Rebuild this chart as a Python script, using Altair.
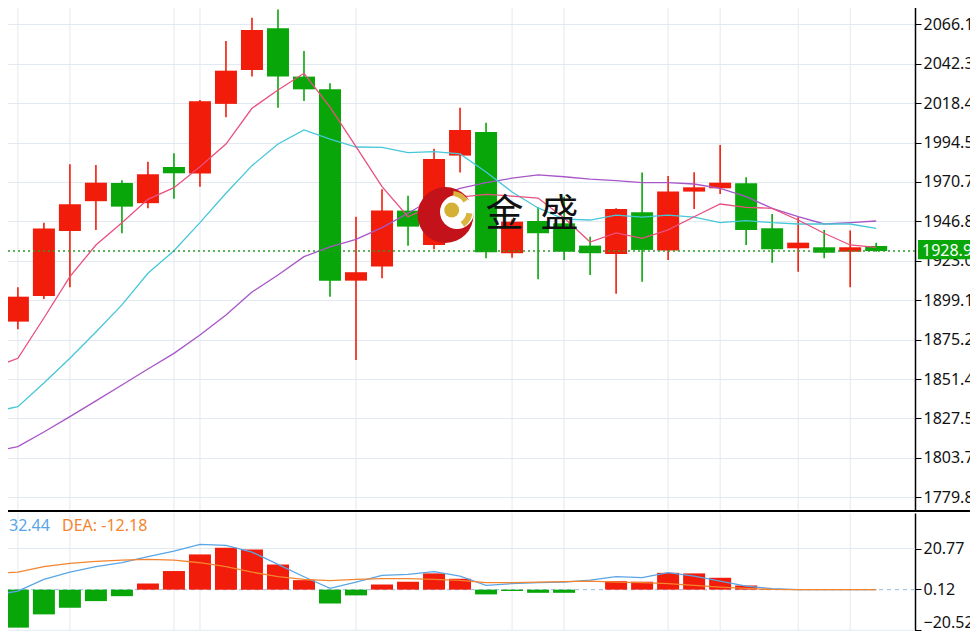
import altair as alt
import pandas as pd

# ---------------- data ----------------
candle_idx = list(range(34))
opens = [1886.2, 1901.7, 1941.1, 1959.1, 1970.1, 1957.9, 1979.8, 1975.8, 2018.0, 2038.5,
         2063.8, 2034.5, 2026.8, 1911.0, 1919.5, 1953.4, 1932.6, 1986.7, 2001.0, 1927.6,
         1947.1, 1945.7, 1932.2, 1927.2, 1952.4, 1929.2, 1964.9, 1966.9, 1969.9, 1942.7,
         1930.6, 1931.2, 1928.5, 1932.0]
highs = [1907.0, 1946.1, 1981.4, 1981.0, 1971.8, 1983.0, 1988.1, 2020.4, 2056.1, 2070.2,
         2075.2, 2050.0, 2030.5, 1949.7, 1966.3, 1962.4, 1990.9, 2015.7, 2006.6, 1948.0,
         1955.6, 1961.8, 1937.6, 1954.8, 1976.4, 1974.4, 1976.6, 1993.1, 1973.6, 1951.4,
         1949.4, 1941.7, 1941.3, 1934.0]
lows = [1881.6, 1899.9, 1907.0, 1941.7, 1939.7, 1954.8, 1960.6, 1967.9, 2009.9, 2034.5,
        2015.7, 2019.7, 1901.3, 1863.0, 1912.4, 1932.2, 1930.0, 1976.4, 1924.5, 1924.9,
        1911.8, 1923.5, 1914.4, 1903.0, 1910.4, 1923.5, 1954.4, 1963.5, 1932.6, 1921.9,
        1916.4, 1924.5, 1907.0, 1928.5]
closes = [1901.3, 1942.5, 1957.2, 1970.3, 1955.8, 1975.4, 1976.0, 2019.6, 2038.1, 2062.7,
          2034.5, 2026.8, 1911.0, 1916.1, 1953.4, 1943.7, 1984.7, 2002.2, 1928.2, 1946.7,
          1939.7, 1928.5, 1927.6, 1954.4, 1929.6, 1964.9, 1967.5, 1970.3, 1941.7, 1930.0,
          1934.0, 1927.9, 1931.2, 1928.96]

line_idx = list(range(-1, 34))
ma5 = [1858.1, 1864.0, 1888.4, 1913.4, 1932.6, 1946.1, 1960.2, 1967.3, 1980.0, 1993.7,
       2015.3, 2026.4, 2036.5, 2016.1, 1992.1, 1967.9, 1949.7, 1956.8, 1961.6, 1963.2,
       1962.2, 1961.0, 1948.9, 1934.4, 1939.9, 1936.6, 1941.7, 1949.7, 1957.4, 1955.4,
       1954.8, 1947.7, 1939.7, 1932.6, 1931.2]
ma10 = [1831.5, 1834.7, 1849.0, 1864.0, 1879.9, 1896.3, 1915.5, 1929.1, 1946.1, 1963.9,
        1980.6, 1993.7, 2002.2, 1996.7, 1991.9, 1991.7, 1988.5, 1989.1, 1987.7, 1976.8,
        1964.7, 1955.0, 1948.3, 1947.7, 1950.7, 1949.5, 1950.7, 1949.5, 1946.1, 1947.3,
        1946.1, 1945.3, 1945.3, 1945.3, 1942.7]
ma20 = [1807.3, 1810.5, 1819.4, 1828.7, 1838.2, 1847.8, 1857.5, 1867.0, 1878.1, 1890.2,
        1904.1, 1914.4, 1925.5, 1931.4, 1936.0, 1943.1, 1951.8, 1961.0, 1966.9, 1970.3,
        1973.0, 1975.0, 1973.9, 1972.4, 1971.5, 1970.3, 1970.3, 1969.5, 1966.9, 1961.8,
        1954.8, 1949.7, 1945.3, 1946.1, 1947.1]

dif = [-2.91, -0.74, 5.17, 8.86, 11.58, 13.6, 16.64, 19.46, 22.85, 22.34,
       18.96, 12.75, 6.53, 0.63, 3.81, 7.19, 7.70, 9.06, 6.84, 2.14,
       3.0, 3.5, 3.81, 4.82, 6.53, 6.03, 8.55, 6.84, 4.31, 1.79,
       0.47, 0.0, 0.0, 0.0, 0.0]
dea = [8.2, 8.86, 11.58, 13.25, 14.26, 14.92, 15.27, 14.92, 13.6, 11.58,
       8.86, 6.53, 5.17, 4.51, 5.17, 5.52, 5.52, 5.17, 4.67, 3.5,
       3.5, 3.81, 4.01, 4.31, 3.81, 3.5, 3.0, 2.14, 1.28, 0.63,
       0.12, 0.0, 0.0, 0.0, 0.0]
hist = [-19.2, -12.5, -9.1, -5.8, -3.3, 3.1, 9.4, 17.8, 21.2, 20.3,
        12.7, 4.8, -7.0, -2.9, 2.6, 4.0, 8.2, 5.5, -2.4, -0.7,
        -1.6, -1.6, 0.0, 4.3, 4.0, 8.5, 8.2, 6.0, 2.1, 0.4,
        0.0, 0.0, 0.0, 0.0]

price_ticks = [2066.17, 2042.31, 2018.45, 1994.59, 1970.73, 1946.87, 1923.01,
               1899.15, 1875.29, 1851.43, 1827.57, 1803.70, 1779.84]
macd_ticks = [20.77, 0.12, -20.52]
vgrid_idx = [0, 2, 6, 7, 13, 19, 21, 25, 27, 30, 32]
dif_label = "32.44"
dea_label = "DEA: -12.18"
brand_chars = ["金", "盛"]

# ---------------- styling ----------------
RED = "#f21c0a"
GREEN = "#08a608"
PINK = "#e9507f"
CYAN = "#45c7d9"
PURPLE = "#a855c8"
BLUE = "#5aa5e6"
ORANGE = "#f4842f"
GRID = "#e3e9f0"
FONT = "Noto Sans"

W = 911
HP = 511
HM = 120

XS = alt.Scale(domain=[-0.342, 34.30], nice=False, zero=False)
YS = alt.Scale(domain=[1771.57, 2080.88], nice=False, zero=False)
MS = alt.Scale(domain=[-21.91, 38.73], nice=False, zero=False)

PAX = alt.Axis(orient="right", values=price_ticks, format=".2f", grid=True, gridColor=GRID,
               domainColor="#000", domainWidth=1.5, tickColor="#000", tickSize=6,
               labelFontSize=16, labelFont=FONT, labelColor="#111", labelPadding=2,
               title=None, labelFlush=False, labelOverlap=False)
MAX = alt.Axis(orient="right", values=macd_ticks, format=".2f", grid=False,
               domainColor="#000", domainWidth=1.5, tickColor="#000", tickSize=6,
               labelFontSize=16, labelFont=FONT, labelColor="#111", labelPadding=2,
               labelBaseline={"condition": {"test": "datum.value < -10", "value": "bottom"},
                              "value": "middle"},
               title=None, labelFlush=False, labelOverlap=False)

candles = pd.DataFrame({"i": candle_idx, "open": opens, "high": highs,
                        "low": lows, "close": closes})
lines = pd.DataFrame({"i": line_idx, "ma5": ma5, "ma10": ma10, "ma20": ma20,
                      "dif": dif, "dea": dea})
histdf = pd.DataFrame({"i": candle_idx, "hist": hist})
vgrid_df = pd.DataFrame({"i": vgrid_idx})
last_df = pd.DataFrame({"close": [closes[-1]]})
one = pd.DataFrame({"a": [0]})

xenc = alt.X("i:Q", scale=XS, axis=None)
updown = alt.condition("datum.close > datum.open", alt.value(RED), alt.value(GREEN))


def py(field):
    return alt.Y(field, scale=YS, axis=PAX)


def my(field):
    return alt.Y(field, scale=MS, axis=MAX)


def anchor(px, py_):
    # invisible zero-length rule that pins the layout bounds
    return alt.Chart(one).mark_rule(opacity=0, strokeWidth=0).encode(
        x=alt.value(px), x2=alt.value(px), y=alt.value(py_), y2=alt.value(py_))


# ---------------- price panel ----------------
vgrid_p = alt.Chart(vgrid_df).mark_rule(color=GRID, strokeWidth=1).encode(x=xenc)

wicks = alt.Chart(candles).mark_rule(strokeWidth=1.6).encode(
    x=xenc, y=py("low:Q"), y2="high:Q", color=updown)

bodies = alt.Chart(candles).mark_bar(size=22, clip=True).encode(
    x=xenc, y=py("open:Q"), y2="close:Q", color=updown)


def ma_line(field, color):
    return alt.Chart(lines).mark_line(color=color, strokeWidth=1.3, clip=True).encode(
        x=xenc, y=py(f"{field}:Q"))


last_rule = alt.Chart(last_df).mark_rule(color="#2a9d2a", strokeDash=[2, 3], strokeWidth=1.4).encode(
    y=py("close:Q"))

# watermark logo
LX, LY = 441.5, 215
logo_red = alt.Chart(one).mark_point(shape="circle", filled=True, size=3136, color="#c3121a", opacity=1).encode(
    x=alt.value(LX), y=alt.value(LY))
logo_white = alt.Chart(one).mark_point(shape="circle", filled=True, size=1156, color="#ffffff", opacity=1).encode(
    x=alt.value(LX + 11.5), y=alt.value(LY - 3))
logo_ball = alt.Chart(one).mark_point(shape="circle", filled=True, size=225, color="#d4b034", opacity=1).encode(
    x=alt.value(LX + 6.2), y=alt.value(LY - 5))
logo_sw1 = alt.Chart(one).mark_arc(radius=19, radius2=14, theta=0.1, theta2=1.0, color="#d9b53f").encode(
    x=alt.value(LX + 6.2), y=alt.value(LY - 5))
logo_sw2 = alt.Chart(one).mark_arc(radius=21, radius2=15, theta=1.75, theta2=2.5, color="#d9b53f").encode(
    x=alt.value(LX + 6.2), y=alt.value(LY - 5))
brand1 = alt.Chart(one).mark_text(text=brand_chars[0], font="Noto Sans CJK SC", fontSize=38,
                                  color="#111", baseline="middle", align="center").encode(
    x=alt.value(500.5), y=alt.value(215))
brand2 = alt.Chart(one).mark_text(text=brand_chars[1], font="Noto Sans CJK SC", fontSize=38,
                                  color="#111", baseline="middle", align="center").encode(
    x=alt.value(555.5), y=alt.value(215))

# last price tag on the axis
tag_box = alt.Chart(last_df).transform_calculate(
    top="datum.close + 6.6", bot="datum.close - 5.0"
).mark_rect(color=GREEN).encode(
    x=alt.value(914), x2=alt.value(1000), y=py("top:Q"), y2="bot:Q")
tag_text = alt.Chart(last_df).mark_text(align="left", baseline="middle", color="white",
                                        fontSize=16, font=FONT).encode(
    x=alt.value(918), y=py("close:Q"), text=alt.Text("close:Q", format=".2f"))

divider = alt.Chart(one).mark_rule(color="#000", strokeWidth=2).encode(
    x=alt.value(0), x2=alt.value(1000), y=alt.value(HP))

price = alt.layer(
    vgrid_p, wicks, bodies,
    ma_line("ma20", PURPLE), ma_line("ma10", CYAN), ma_line("ma5", PINK),
    last_rule,
    logo_red, logo_white, logo_ball, logo_sw1, logo_sw2, brand1, brand2,
    tag_box, tag_text, divider, anchor(-50, -50),
).properties(width=W, height=HP)

# ---------------- MACD panel ----------------
vgrid_m = alt.Chart(vgrid_df).mark_rule(color=GRID, strokeWidth=1).encode(x=xenc)

mgrid = alt.Chart(pd.DataFrame({"t": [macd_ticks[0], macd_ticks[2]]})).mark_rule(
    color=GRID, strokeWidth=1).encode(y=my("t:Q"))

zero_rule = alt.Chart(one).mark_rule(color="#a8c8e8", strokeDash=[4, 4], strokeWidth=1.2).encode(
    y=my("a:Q"))

bars = alt.Chart(histdf).mark_bar(size=22, clip=True).encode(
    x=xenc, y=my("hist:Q"), y2=alt.datum(0),
    color=alt.condition("datum.hist >= 0", alt.value(RED), alt.value(GREEN)),
)

dif_line = alt.Chart(lines).mark_line(color=BLUE, strokeWidth=1.3, clip=True).encode(
    x=xenc, y=my("dif:Q"))
dea_line = alt.Chart(lines).mark_line(color=ORANGE, strokeWidth=1.3, clip=True).encode(
    x=xenc, y=my("dea:Q"))

lbl_dif = alt.Chart(one).mark_text(text=dif_label, align="left", baseline="middle",
                                   fontSize=16, font=FONT, color=BLUE).encode(
    x=alt.value(5), y=alt.value(13))
lbl_dea = alt.Chart(one).mark_text(text=dea_label, align="left", baseline="middle",
                                   fontSize=16, font=FONT, color=ORANGE).encode(
    x=alt.value(58), y=alt.value(13))

macd = alt.layer(
    vgrid_m, mgrid, zero_rule, bars, dif_line, dea_line, lbl_dif, lbl_dea, anchor(1100, 700),
).properties(width=W, height=HM)

chart = alt.vconcat(price, macd, spacing=0).properties(
    padding={"left": -54, "top": -58, "right": -134, "bottom": -582},
    background="white",
).configure_view(strokeWidth=0)

chart.save("out.html", embed_options={"renderer": "svg", "actions": False})
